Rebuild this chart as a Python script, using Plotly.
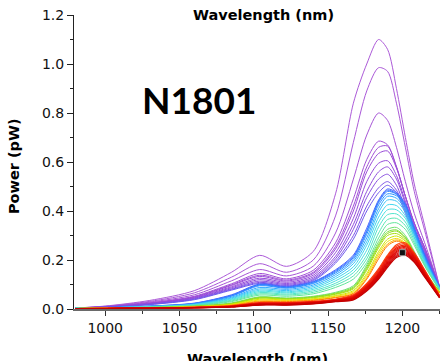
import plotly.graph_objects as go

# Wavelength grid (nm) shared by every spectrum
wavelength = [980, 1000, 1030, 1060, 1085, 1104, 1122, 1140, 1155, 1167,
              1176, 1184, 1190, 1196, 1202, 1208, 1215, 1225]

# Spectra (pW), grouped by colour family, highest first
purple_curves = [
    [.004, .012, .035, .075, .150, .219, .174, .235, .47, .84, 1.00, 1.10, 1.06, .90, .70, .51, .34, .09],
    [.004, .011, .031, .066, .130, .185, .150, .200, .38, .68, .89, .985, .97, .84, .66, .48, .32, .09],
    [.004, .010, .028, .058, .115, .161, .135, .175, .31, .53, .71, .80, .77, .66, .52, .39, .27, .09],
    [.004, .009, .025, .052, .103, .145, .123, .158, .27, .45, .61, .685, .67, .58, .46, .35, .25, .09],
    [.004, .009, .024, .050, .099, .138, .118, .150, .255, .42, .58, .66, .665, .58, .46, .35, .25, .09],
    [.004, .009, .023, .048, .096, .133, .114, .145, .245, .40, .56, .635, .645, .575, .46, .35, .25, .09],
    [.004, .008, .022, .046, .091, .126, .109, .138, .23, .37, .52, .595, .605, .545, .44, .34, .24, .09],
    [.004, .008, .021, .044, .087, .120, .104, .131, .215, .345, .48, .56, .58, .53, .43, .33, .235, .09],
    [.004, .008, .020, .042, .083, .114, .100, .125, .205, .325, .455, .53, .55, .505, .41, .32, .23, .09],
    [.004, .008, .019, .040, .080, .109, .096, .120, .195, .30, .42, .495, .52, .485, .40, .31, .225, .09],
    [.004, .007, .018, .038, .077, .105, .093, .116, .187, .285, .40, .475, .505, .475, .39, .305, .22, .09],
]
blue_curves = [
    [.003, .006, .012, .024, .058, .102, .091, .112, .160, .220, .330, .445, .490, .475, .430, .330, .220, .090],
    [.003, .006, .012, .023, .056, .100, .089, .110, .156, .215, .320, .440, .485, .470, .425, .330, .220, .090],
    [.003, .005, .011, .022, .054, .098, .087, .107, .152, .210, .315, .435, .480, .468, .420, .325, .215, .088],
    [.003, .005, .011, .021, .052, .095, .085, .104, .147, .203, .305, .425, .470, .462, .415, .320, .210, .087],
]
cyan_curves = [
    [.003, .005, .010, .020, .048, .088, .080, .098, .140, .195, .290, .410, .460, .452, .405, .310, .205, .085],
    [.003, .005, .010, .019, .045, .082, .075, .092, .132, .185, .275, .395, .445, .440, .395, .305, .200, .085],
    [.003, .005, .009, .018, .042, .077, .070, .086, .124, .172, .260, .375, .425, .422, .380, .295, .195, .083],
    [.003, .005, .009, .017, .039, .072, .066, .080, .115, .160, .240, .355, .405, .405, .370, .290, .190, .082],
    [.003, .004, .008, .016, .036, .067, .061, .074, .105, .148, .220, .335, .385, .388, .355, .280, .185, .080],
    [.003, .004, .008, .015, .033, .062, .057, .068, .097, .135, .205, .310, .365, .370, .340, .270, .180, .078],
    [.003, .004, .007, .014, .030, .057, .052, .062, .088, .122, .190, .290, .345, .352, .325, .260, .175, .076],
]
green_curves = [
    [.002, .004, .006, .012, .025, .050, .045, .052, .068, .095, .180, .275, .325, .333, .300, .235, .155, .072],
    [.002, .004, .006, .011, .023, .048, .043, .050, .065, .090, .172, .265, .315, .323, .293, .230, .152, .070],
    [.002, .004, .006, .011, .022, .046, .042, .048, .062, .086, .165, .258, .308, .318, .290, .228, .150, .070],
    [.002, .003, .005, .010, .021, .044, .040, .046, .060, .082, .158, .250, .300, .308, .283, .224, .148, .069],
]
yellow_curves = [
    [.002, .003, .005, .009, .019, .040, .037, .042, .055, .075, .145, .235, .285, .298, .277, .220, .145, .068],
    [.002, .003, .005, .009, .018, .037, .035, .040, .052, .070, .137, .225, .275, .288, .270, .215, .143, .067],
]
orange_curves = [
    [.002, .003, .005, .008, .016, .033, .032, .037, .048, .065, .128, .215, .265, .282, .266, .212, .140, .065],
    [.002, .003, .004, .008, .015, .030, .030, .035, .046, .062, .122, .205, .258, .277, .262, .210, .138, .064],
]
red_curves = [
    [.002, .003, .004, .007, .013, .026, .026, .031, .040, .058, .105, .165, .220, .262, .270, .230, .160, .055],
    [.002, .003, .004, .007, .012, .025, .025, .030, .039, .055, .100, .160, .215, .256, .265, .226, .157, .054],
    [.002, .003, .004, .006, .012, .024, .024, .029, .038, .053, .097, .155, .210, .250, .260, .222, .154, .053],
    [.002, .003, .004, .006, .011, .023, .023, .028, .037, .051, .094, .150, .205, .245, .255, .218, .151, .052],
    [.002, .002, .003, .006, .011, .022, .022, .027, .036, .049, .091, .146, .200, .240, .250, .214, .148, .051],
    [.002, .002, .003, .006, .010, .021, .021, .026, .035, .047, .088, .142, .195, .235, .245, .210, .145, .050],
    [.002, .002, .003, .005, .010, .020, .020, .025, .034, .045, .085, .138, .190, .230, .240, .206, .142, .049],
    [.002, .002, .003, .005, .009, .019, .019, .024, .033, .043, .082, .134, .185, .225, .235, .202, .139, .048],
    [.002, .002, .003, .005, .009, .018, .018, .023, .032, .041, .079, .130, .180, .220, .230, .198, .136, .047],
    [.002, .002, .003, .005, .008, .017, .017, .022, .031, .039, .076, .126, .175, .215, .225, .194, .133, .046],
    [.001, .002, .003, .004, .008, .016, .016, .021, .030, .037, .073, .122, .170, .210, .220, .190, .130, .045],
]

purple_colors = ["#ac5ad8", "#aa58d8", "#a654d6", "#a250d6", "#9e4ed6", "#9a4cd8",
                 "#964cda", "#904cdc", "#884ee0", "#7c52e6", "#6e58ec"]
blue_colors = ["#4864ff", "#3c72ff", "#3282ff", "#2c92ff"]
cyan_colors = ["#30aaff", "#38c4f8", "#40d6ee", "#48e0e0", "#50e4cc", "#58e6b4", "#60e698"]
green_colors = ["#70e070", "#80e040", "#90dc20", "#a8e010"]
yellow_colors = ["#cce600", "#f0e000"]
orange_colors = ["#ffb400", "#ff7800"]
red_colors = ["#ff4010", "#f83010", "#f02008", "#ea1808", "#e41004", "#e00800",
              "#dc0400", "#d80000", "#d40000", "#cc0000", "#c40000"]

# Marked point on the lowest spectra
marker_wavelength = [1200]
marker_power = [0.23]

families = [
    (purple_curves, purple_colors, 1.0),
    (blue_curves, blue_colors, 1.0),
    (cyan_curves, cyan_colors, 1.0),
    (green_curves, green_colors, 1.0),
    (yellow_curves, yellow_colors, 1.0),
    (orange_curves, orange_colors, 1.0),
    (red_curves, red_colors, 1.1),
]

fig = go.Figure()
for curves, colors, width in families:
    for values, color in zip(curves, colors):
        fig.add_trace(go.Scatter(
            x=wavelength, y=values, mode="lines",
            line=dict(color=color, width=width, shape="spline", smoothing=0.8),
            showlegend=False, hoverinfo="skip",
        ))

fig.add_trace(go.Scatter(
    x=marker_wavelength, y=marker_power, mode="markers",
    marker=dict(symbol="square", size=6, color="#111111",
                line=dict(color="#9a9a9a", width=1)),
    showlegend=False,
))

tick_font = dict(family="DejaVu Sans", size=14, color="#111111")
title_font = dict(family="DejaVu Sans", size=14.5, color="#000000")

fig.update_layout(
    width=447, height=361,
    margin=dict(l=74, r=7, t=15, b=52),
    paper_bgcolor="white", plot_bgcolor="white",
    xaxis=dict(
        range=[979, 1225.3], showgrid=False, zeroline=False,
        showline=True, linecolor="#6a6a6a", linewidth=1.5,
        ticks="outside", ticklen=5, tickcolor="#333333",
        tick0=1000, dtick=50, tickfont=tick_font,
        minor=dict(ticks="outside", ticklen=3, dtick=25, tick0=1000, tickcolor="#333333"),
    ),
    yaxis=dict(
        range=[0, 1.2], showgrid=False, zeroline=False,
        showline=True, linecolor="#222222", linewidth=1,
        ticks="outside", ticklen=6, tickcolor="#222222",
        tick0=0, dtick=0.2, tickformat=".1f", tickfont=tick_font,
        minor=dict(ticks="outside", ticklen=3, dtick=0.1, tick0=0, tickcolor="#222222"),
    ),
    annotations=[
        dict(text="<b>Wavelength (nm)</b>", xref="paper", yref="paper",
             x=0.519, y=1.0, xanchor="center", yanchor="middle",
             showarrow=False, font=title_font),
        dict(text="<b>Wavelength (nm)</b>", xref="paper", yref="paper",
             x=0.501, y=-0.137, xanchor="center", yanchor="top",
             showarrow=False, font=title_font),
        dict(text="<b>Power (pW)</b>", xref="paper", yref="paper",
             x=-0.164, y=0.486, xanchor="center", yanchor="middle",
             textangle=-90, showarrow=False, font=title_font),
        dict(text="<b>N1801</b>", xref="paper", yref="paper",
             x=0.3415, y=0.714, xanchor="center", yanchor="middle",
             showarrow=False, font=dict(family="Lato", size=37, color="#000000")),
    ],
)

fig.write_html("out.html")
